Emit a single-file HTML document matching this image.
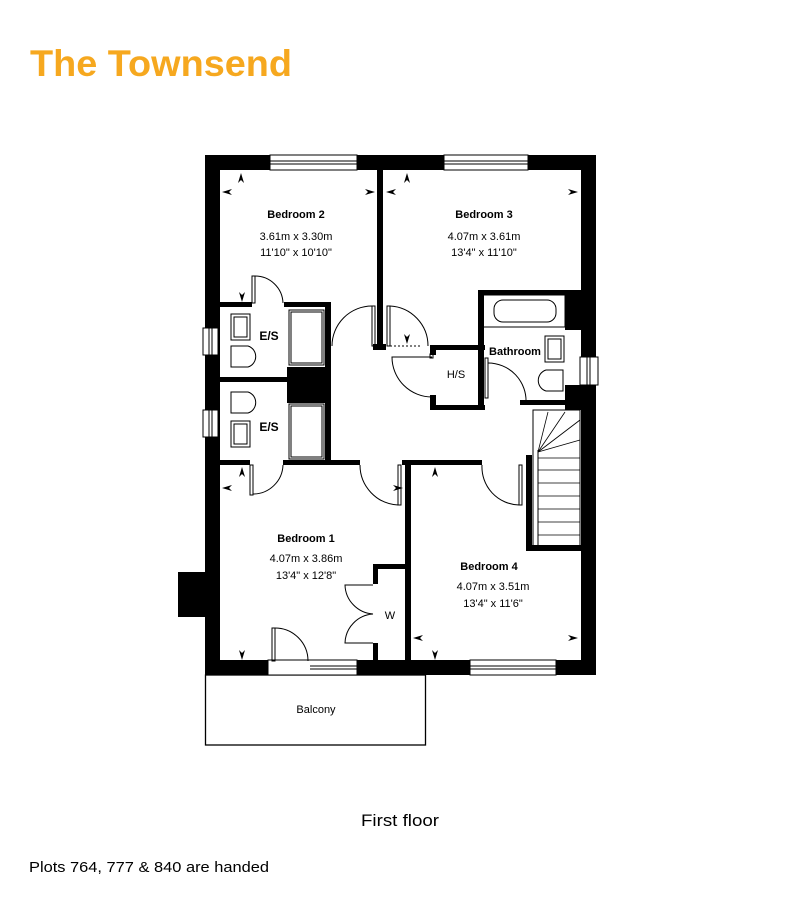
<!DOCTYPE html>
<html><head><meta charset="utf-8"><style>
html,body{margin:0;padding:0;background:#fff;}
svg{display:block;font-family:"Liberation Sans",sans-serif;}
</style></head><body>
<svg width="800" height="901" viewBox="0 0 800 901" xmlns="http://www.w3.org/2000/svg">
<text x="30" y="76" font-size="37" font-weight="bold" fill="#f6a81f" textLength="262" lengthAdjust="spacingAndGlyphs">The Townsend</text>

<!-- balcony -->
<rect x="205.5" y="675" width="220" height="70" fill="none" stroke="#000" stroke-width="1.3"/>
<text x="316" y="713" font-size="11" text-anchor="middle">Balcony</text>

<g fill="#000">
<!-- outer walls -->
<rect x="205" y="155" width="391" height="15"/>
<rect x="205" y="155" width="15" height="520"/>
<rect x="581" y="155" width="15" height="520"/>
<rect x="205" y="660" width="391" height="15"/>
<rect x="178" y="572" width="27" height="45"/>
<rect x="565" y="290" width="16" height="40"/>
<rect x="565" y="385" width="16" height="25"/>
<!-- interior -->
<rect x="377" y="170" width="6" height="180"/>
<rect x="373" y="344" width="13" height="6"/>
<rect x="220" y="302" width="32" height="5"/>
<rect x="284" y="302" width="47" height="5"/>
<rect x="325" y="302" width="6" height="160"/>
<rect x="287" y="367" width="44" height="36"/>
<rect x="220" y="377" width="67" height="5"/>
<rect x="220" y="460" width="30" height="5"/>
<rect x="283" y="460" width="77" height="5"/>
<rect x="402" y="460" width="80" height="5"/>
<rect x="405" y="460" width="6" height="200"/>
<rect x="373" y="564" width="36" height="5"/>
<rect x="373" y="564" width="5" height="20"/>
<rect x="373" y="643" width="5" height="17"/>
<rect x="430" y="345" width="55" height="5"/>
<rect x="430" y="345" width="6" height="10"/>
<rect x="430" y="395" width="6" height="15"/>
<rect x="430" y="405" width="55" height="5"/>
<rect x="478" y="290" width="6" height="120"/>
<rect x="478" y="290" width="103" height="5"/>
<rect x="520" y="400" width="61" height="5"/>
<rect x="526" y="455" width="6" height="96"/>
<rect x="526" y="545" width="56" height="6"/>
</g>

<g fill="#fff" stroke="#000" stroke-width="1">
<!-- windows -->
<rect x="270" y="155" width="87" height="15"/><line x1="270" y1="161" x2="357" y2="161"/><line x1="270" y1="164" x2="357" y2="164"/>
<rect x="444" y="155" width="84" height="15"/><line x1="444" y1="161" x2="528" y2="161"/><line x1="444" y1="164" x2="528" y2="164"/>
<rect x="268" y="660" width="89" height="15"/><line x1="310" y1="666" x2="357" y2="666"/><line x1="310" y1="669" x2="357" y2="669"/>
<rect x="470" y="660" width="86" height="15"/><line x1="470" y1="666" x2="556" y2="666"/><line x1="470" y1="669" x2="556" y2="669"/>
<rect x="203" y="328" width="15" height="27"/><line x1="209" y1="328" x2="209" y2="355"/><line x1="212" y1="328" x2="212" y2="355"/>
<rect x="203" y="410" width="15" height="27"/><line x1="209" y1="410" x2="209" y2="437"/><line x1="212" y1="410" x2="212" y2="437"/>
<rect x="580" y="357" width="18" height="28"/><line x1="587" y1="357" x2="587" y2="385"/><line x1="590" y1="357" x2="590" y2="385"/>
</g>

<g fill="none" stroke="#000" stroke-width="1">
<!-- doors -->
<rect x="252" y="276" width="3" height="27"/><path d="M255 276 A28 28 0 0 1 283 303"/>
<rect x="372" y="306" width="3" height="40"/><path d="M372 306 A40 40 0 0 0 332 346"/>
<rect x="387" y="306" width="3" height="40"/><path d="M390 306 A40 40 0 0 1 428 346"/>
<line x1="390" y1="346" x2="420" y2="346" stroke-dasharray="2,2"/>
<rect x="430" y="354" width="3" height="4"/><path d="M432 357 L392 357 A40 40 0 0 0 432 397"/>
<rect x="485" y="358" width="3" height="40"/><path d="M488 363 A38 38 0 0 1 526 403"/>
<rect x="250" y="465" width="3" height="30"/><path d="M253 494 A30 30 0 0 0 283 465"/>
<rect x="398" y="465" width="3" height="40"/><path d="M398 505 A40 40 0 0 1 360 465"/>
<rect x="519" y="465" width="3" height="40"/><path d="M519 505 A38 38 0 0 1 482 465"/>
<rect x="272" y="628" width="3" height="33"/><path d="M275 628 A33 33 0 0 1 308 661"/>
<path d="M373 585 L345 585 A30 30 0 0 0 373 614 A30 30 0 0 0 345 643 L373 643"/>
<!-- stairs -->
<rect x="533" y="410" width="47" height="136"/>
<line x1="538" y1="450" x2="538" y2="545"/>
<g stroke-width="0.8">
<line x1="538" y1="458" x2="580" y2="458"/><line x1="538" y1="470" x2="580" y2="470"/><line x1="538" y1="483" x2="580" y2="483"/><line x1="538" y1="496" x2="580" y2="496"/><line x1="538" y1="509" x2="580" y2="509"/><line x1="538" y1="522" x2="580" y2="522"/><line x1="538" y1="535" x2="580" y2="535"/>
<line x1="538" y1="452" x2="548" y2="412"/><line x1="538" y1="452" x2="565" y2="412"/><line x1="538" y1="452" x2="580" y2="420"/><line x1="538" y1="452" x2="580" y2="440"/>
</g>
<!-- ensuite fixtures -->
<rect x="289" y="310" width="35" height="55" fill="#fff"/><rect x="291" y="312" width="31" height="51"/>
<rect x="289" y="404" width="35" height="55"/><rect x="291" y="406" width="31" height="51"/>
<rect x="231" y="314" width="19" height="26"/><rect x="234" y="317" width="13" height="20"/>
<path d="M231 346 L248 346 A11 11 0 0 1 248 367 L231 367 Z"/>
<path d="M231 392 L248 392 A11 11 0 0 1 248 413 L231 413 Z"/>
<rect x="231" y="421" width="19" height="26"/><rect x="234" y="424" width="13" height="20"/>
<!-- bathroom -->
<rect x="483" y="295" width="82" height="32"/><rect x="494" y="300" width="62" height="22" rx="9"/>
<rect x="545" y="336" width="19" height="26"/><rect x="548" y="339" width="13" height="20"/>
<path d="M563 370 L546 370 A11 11 0 0 0 546 391 L563 391 Z"/>
<line x1="220" y1="307" x2="220" y2="460" stroke-width="0"/>
</g>

<!-- arrows -->
<g fill="#000" font-size="13">
<path d="M241 173 l-3 10 l3 -3 l3 3z"/><path d="M222 192 l10 -3 l-3 3 l3 3z"/><path d="M375 192 l-10 -3 l3 3 l-3 3z"/>
<path d="M407 173 l-3 10 l3 -3 l3 3z"/><path d="M386 192 l10 -3 l-3 3 l3 3z"/><path d="M578 192 l-10 -3 l3 3 l-3 3z"/>
<path d="M242 302 l-3 -10 l3 3 l3 -3z"/><path d="M407 344 l-3 -10 l3 3 l3 -3z"/>
<path d="M242 467 l-3 10 l3 -3 l3 3z"/><path d="M222 488 l10 -3 l-3 3 l3 3z"/><path d="M403 488 l-10 -3 l3 3 l-3 3z"/>
<path d="M435 467 l-3 10 l3 -3 l3 3z"/><path d="M413 638 l10 -3 l-3 3 l3 3z"/><path d="M578 638 l-10 -3 l3 3 l-3 3z"/>
<path d="M242 660 l-3 -10 l3 3 l3 -3z"/><path d="M435 660 l-3 -10 l3 3 l3 -3z"/>
</g>

<!-- labels -->
<g font-size="11" text-anchor="middle" fill="#000">
<text x="296" y="218" font-weight="bold">Bedroom 2</text>
<text x="296" y="240">3.61m x 3.30m</text>
<text x="296" y="256">11'10" x 10'10"</text>
<text x="484" y="218" font-weight="bold">Bedroom 3</text>
<text x="484" y="240">4.07m x 3.61m</text>
<text x="484" y="256">13'4" x 11'10"</text>
<text x="269" y="340" font-weight="bold" font-size="12">E/S</text>
<text x="269" y="431" font-weight="bold" font-size="12">E/S</text>
<text x="515" y="355" font-weight="bold">Bathroom</text>
<text x="456" y="378">H/S</text>
<text x="306" y="542" font-weight="bold">Bedroom 1</text>
<text x="306" y="562">4.07m x 3.86m</text>
<text x="306" y="579">13'4" x 12'8"</text>
<text x="390" y="619">W</text>
<text x="489" y="570" font-weight="bold">Bedroom 4</text>
<text x="493" y="590">4.07m x 3.51m</text>
<text x="493" y="607">13'4" x 11'6"</text>
</g>

<text x="400" y="826" font-size="17" text-anchor="middle" textLength="78" lengthAdjust="spacingAndGlyphs">First floor</text>
<text x="29" y="872" font-size="15" textLength="240" lengthAdjust="spacingAndGlyphs">Plots 764, 777 &amp; 840 are handed</text>
</svg>
</body></html>
